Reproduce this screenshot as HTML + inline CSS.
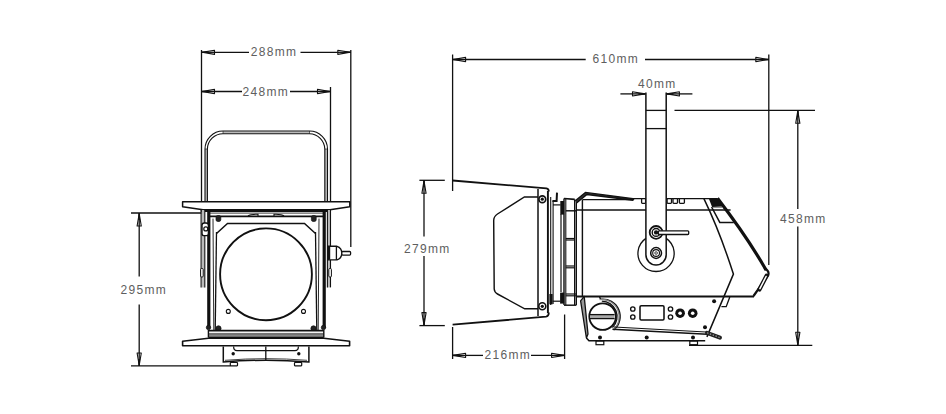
<!DOCTYPE html>
<html><head><meta charset="utf-8">
<style>
html,body{margin:0;padding:0;background:#fff;}
body{width:946px;height:414px;overflow:hidden;}
svg{display:block;}
text{font-family:"Liberation Sans",sans-serif;font-size:12px;fill:#5e5e5e;letter-spacing:1.3px;}
</style></head><body>
<svg width="946" height="414" viewBox="0 0 946 414">
<defs>
<g id="ah"><path d="M0.5,0 L13,-2.1 L13,2.1 Z" fill="#fff" stroke="#111" stroke-width="1.1" stroke-linejoin="round"/><path d="M0,0 L13,0" stroke="#111" stroke-width="1.3"/><path d="M0,0 L7,-1 L7,1 Z" fill="#111"/></g>
</defs>
<g fill="none" stroke="#111" stroke-width="1.3">
<!-- ============ FRONT VIEW DIMENSIONS ============ -->
<!-- 288mm -->
<line x1="201.5" y1="50" x2="201.5" y2="212"/>
<line x1="350.8" y1="50" x2="350.8" y2="247"/>
<line x1="201.5" y1="52.3" x2="249" y2="52.3"/>
<line x1="300.5" y1="52.3" x2="350.8" y2="52.3"/>
<!-- 248mm -->
<line x1="330.5" y1="87" x2="330.5" y2="201.5"/>
<line x1="201.5" y1="91.5" x2="242" y2="91.5"/>
<line x1="290" y1="91.5" x2="330.5" y2="91.5"/>
<!-- 295mm -->
<line x1="131" y1="213" x2="201.5" y2="213"/>
<line x1="131" y1="365.9" x2="230.5" y2="365.9"/>
<line x1="139.2" y1="213" x2="139.2" y2="276.4"/>
<line x1="139.2" y1="304.5" x2="139.2" y2="366"/>
</g>
<use href="#ah" transform="translate(201.5,52.3)"/>
<use href="#ah" transform="translate(350.8,52.3) rotate(180)"/>
<use href="#ah" transform="translate(201.5,91.5)"/>
<use href="#ah" transform="translate(330.5,91.5) rotate(180)"/>
<use href="#ah" transform="translate(139.2,213) rotate(90)"/>
<use href="#ah" transform="translate(139.2,366) rotate(-90)"/>
<text x="250.8" y="55.8">288mm</text>
<text x="242.5" y="95.8">248mm</text>
<text x="120.5" y="294.4">295mm</text>

<!-- ============ SIDE VIEW DIMENSIONS ============ -->
<g fill="none" stroke="#111" stroke-width="1.3">
<!-- 610mm -->
<line x1="452.6" y1="54.5" x2="452.6" y2="191"/>
<line x1="768.8" y1="54.5" x2="768.8" y2="265"/>
<line x1="452.6" y1="59.5" x2="585.7" y2="59.5"/>
<line x1="645" y1="59.5" x2="768.8" y2="59.5"/>
<!-- 40mm -->
<line x1="620.4" y1="93.9" x2="645.5" y2="93.9"/>
<line x1="666.4" y1="93.9" x2="692.4" y2="93.9"/>
<!-- 458mm -->
<line x1="674.5" y1="110.3" x2="815" y2="110.3"/>
<line x1="689" y1="345.3" x2="812.3" y2="345.3"/>
<line x1="797.8" y1="110.3" x2="797.8" y2="209"/>
<line x1="797.8" y1="226.4" x2="797.8" y2="345.3"/>
<!-- 279mm -->
<line x1="419.4" y1="180.3" x2="444.8" y2="180.3"/>
<line x1="419.4" y1="325.6" x2="444.8" y2="325.6"/>
<line x1="424" y1="180.3" x2="424" y2="236.6"/>
<line x1="424" y1="255.9" x2="424" y2="325.6"/>
<!-- 216mm -->
<line x1="452.6" y1="327" x2="452.6" y2="359"/>
<line x1="564.6" y1="314.5" x2="564.6" y2="359"/>
<line x1="452.6" y1="355.4" x2="483" y2="355.4"/>
<line x1="531" y1="355.4" x2="564.6" y2="355.4"/>
</g>
<use href="#ah" transform="translate(452.6,59.5)"/>
<use href="#ah" transform="translate(768.8,59.5) rotate(180)"/>
<use href="#ah" transform="translate(645.5,93.9) rotate(180)"/>
<use href="#ah" transform="translate(666.4,93.9)"/>
<use href="#ah" transform="translate(797.8,110.3) rotate(90)"/>
<use href="#ah" transform="translate(797.8,345.3) rotate(-90)"/>
<use href="#ah" transform="translate(424,180.3) rotate(90)"/>
<use href="#ah" transform="translate(424,325.6) rotate(-90)"/>
<use href="#ah" transform="translate(452.6,355.4)"/>
<use href="#ah" transform="translate(564.6,355.4) rotate(180)"/>
<text x="592.5" y="63">610mm</text>
<text x="638" y="88">40mm</text>
<text x="780" y="222.6">458mm</text>
<text x="404" y="253">279mm</text>
<text x="484.5" y="359">216mm</text>

<!-- ============ FRONT VIEW FIXTURE ============ -->
<g id="front" fill="none" stroke="#111" stroke-width="1.32">
<!-- yoke tube -->
<path d="M206.2,201.5 L206.2,149 L206.2,149 M223,132.4 L309.5,132.4 M326.1,149 L326.1,201.5" stroke="#bbb" stroke-width="2.2"/>
<path d="M205,201.5 L205,149 A18,18 0 0 1 223,131 L309.5,131 A18,18 0 0 1 327.5,149 L327.5,201.5" stroke-width="1.1"/>
<path d="M207.4,201.5 L207.4,149 A15.6,15.6 0 0 1 223,133.7 L309.5,133.7 A15.6,15.6 0 0 1 324.8,149 L324.8,201.5" stroke-width="1.1"/>
<path d="M205,149 L207.4,149 M223,131 L223,133.7 M309.5,131 L309.5,133.7 M327.5,149 L324.8,149" stroke-width="0.6"/>
<!-- top plate -->
<path d="M182.6,201.8 L349.8,201.8 L349.8,206.8 L330,209.8 L203,209.8 L182.6,206.8 Z" stroke-width="1.5" fill="#fff" stroke-linejoin="round"/>
<!-- top band -->
<line x1="205" y1="210.9" x2="327" y2="210.9" stroke-width="2"/>
<line x1="209" y1="213.1" x2="323" y2="213.1" stroke="#666" stroke-width="1.4"/>
<line x1="208" y1="216.4" x2="324" y2="216.4" stroke-width="1.7"/>
<path d="M248,216 Q250,214.2 256,214.2 L258,214.2 L258,216" stroke-width="1.1"/>
<path d="M284,216 Q282,214.2 276,214.2 L274,214.2 L274,216" stroke-width="1.1"/>
<!-- yoke arms lower -->
<rect x="201.6" y="210" width="3" height="77.5" fill="#bbb" stroke="none"/>
<line x1="201.1" y1="210" x2="201.1" y2="287.4" stroke-width="1.1"/>
<line x1="204.8" y1="210" x2="204.8" y2="287.4" stroke-width="1.1"/>
<rect x="327.6" y="210" width="2.6" height="77.5" fill="#bbb" stroke="none"/>
<line x1="330.5" y1="210" x2="330.5" y2="287.4" stroke-width="1.1"/>
<line x1="327.4" y1="210" x2="327.4" y2="287.4" stroke-width="1.1"/>
<rect x="200.6" y="268.5" width="2.6" height="8.5" rx="1" stroke-width="1" fill="#fff"/>
<rect x="328.8" y="268.5" width="2.6" height="8.5" rx="1" stroke-width="1" fill="#fff"/>
<!-- frame thick -->
<rect x="207.2" y="210" width="3.2" height="118" fill="#111" stroke="none"/>
<rect x="322.6" y="210" width="3.2" height="118" fill="#111" stroke="none"/>
<line x1="213" y1="218.6" x2="213.8" y2="330.6" stroke-width="0.9"/>
<line x1="319" y1="218.6" x2="318.2" y2="330.6" stroke-width="0.9"/>
<line x1="216.5" y1="232" x2="215.2" y2="331" stroke-width="1.3"/>
<line x1="315.5" y1="232" x2="316.8" y2="331" stroke-width="1.3"/>
<!-- left clamp -->
<rect x="202" y="223" width="6.4" height="12.6" rx="2.2" stroke-width="1.4" fill="#fff"/>
<circle cx="205.8" cy="228.9" r="2" stroke-width="1.2"/>
<!-- octagon (lens frame) -->
<path d="M216.5,233.5 L227.5,223.5 L304.5,223.5 L315.5,233.5" stroke-width="1.5"/>
<!-- lens circle -->
<circle cx="266" cy="274.3" r="45.9" stroke-width="1.9"/>
<circle cx="228.3" cy="311.4" r="2" stroke-width="1.08"/>
<circle cx="303.5" cy="311.4" r="2" stroke-width="1.08"/>
<!-- corner screws -->
<rect x="216" y="215.5" width="4.8" height="6" rx="1.8" fill="#222" stroke-width="0.7"/>
<rect x="311.4" y="215.5" width="4.8" height="6" rx="1.8" fill="#222" stroke-width="0.7"/>
<circle cx="218.5" cy="328.4" r="2.6" fill="#222" stroke-width="0.72"/>
<circle cx="313.5" cy="328.4" r="2.6" fill="#222" stroke-width="0.72"/>
<circle cx="208.5" cy="327.5" r="2.2" fill="#222" stroke-width="0.72"/>
<circle cx="323.5" cy="327.5" r="2.2" fill="#222" stroke-width="0.72"/>
<!-- right knob -->
<path d="M328,246.3 L337,246.3 Q341.8,247.8 341.8,253.1 Q341.8,258.4 337,259.9 L328,259.9 Z" stroke-width="1.4" fill="#fff"/>
<rect x="328" y="246.5" width="2.2" height="13.2" fill="#111" stroke="none"/>
<line x1="336.4" y1="246.3" x2="336.4" y2="259.9" stroke-width="1.3"/>
<rect x="341.8" y="251.5" width="8.8" height="3.6" rx="1" stroke-width="1.3" fill="#fff"/>
<!-- bottom band -->
<rect x="208.4" y="330.1" width="115.4" height="7.2" fill="#fff" stroke="none"/>
<rect x="208.4" y="332.9" width="115.4" height="4.3" fill="#888" stroke="none"/>
<line x1="208.4" y1="334" x2="323.8" y2="334" stroke="#555" stroke-width="0.8"/>
<line x1="208.4" y1="330.7" x2="323.8" y2="330.7" stroke-width="1.8"/>
<line x1="208.4" y1="337.4" x2="323.8" y2="337.4" stroke-width="1.4"/>
<line x1="208.4" y1="330" x2="208.4" y2="337.4" stroke-width="1.4"/>
<line x1="323.8" y1="330" x2="323.8" y2="337.4" stroke-width="1.4"/>
<!-- bottom plate -->
<path d="M182.6,341.2 L208.4,338.2 L323.8,338.2 L349.6,341.2 L349.6,345.8 L182.6,345.8 Z" stroke-width="1.6" fill="#fff" stroke-linejoin="round"/>
<!-- base box -->
<path d="M223.3,346.5 L223.3,362 Q266,358.5 308.9,362 L308.9,346.5" stroke-width="1.5"/>
<path d="M225,360.3 Q266,357 307,360.3" stroke-width="0.8"/>
<line x1="265.8" y1="346.5" x2="265.8" y2="361" stroke-width="1.3"/>
<path d="M233.6,346.5 Q233.6,350.6 237,350.6 L295,350.6 Q298.4,350.6 298.4,346.5" stroke-width="1.2"/>
<circle cx="233.2" cy="353.8" r="1.7" fill="#111" stroke="none"/>
<circle cx="298.8" cy="353.8" r="1.7" fill="#111" stroke="none"/>
<rect x="230.3" y="362.5" width="7.2" height="3.3" rx="0.5" stroke-width="1.2"/>
<rect x="294.5" y="362.5" width="7.2" height="3.3" rx="0.5" stroke-width="1.2"/>
</g>

<!-- ============ SIDE VIEW FIXTURE ============ -->
<g id="side" fill="none" stroke="#111" stroke-width="1.32">
<!-- barndoor leaves -->
<path d="M452.6,180.5 L546.5,188.4 Q548.8,188.8 548.8,191.5" stroke-width="1.80"/>
<path d="M452.6,324.7 L546,316.6 Q548.8,316.2 548.8,312.5" stroke-width="1.80"/>
<!-- barndoor frame verticals -->
<line x1="538" y1="189" x2="538" y2="316" stroke-width="1.5"/>
<line x1="547.9" y1="191" x2="547.9" y2="313" stroke-width="1.92"/>
<line x1="550.7" y1="197" x2="550.7" y2="305" stroke-width="1.1"/>
<line x1="553.1" y1="201" x2="553.1" y2="304" stroke-width="1.1"/>
<!-- barndoor housing side shape -->
<path d="M538,197 L524.4,197 L497.5,214 Q493.7,216.5 493.7,220.5 L494.2,289 Q494.5,292.5 497.5,294 L524.7,308.8 L538,308.8" stroke-width="1.44"/>
<circle cx="542.3" cy="199.2" r="3.4" stroke-width="1.7"/>
<circle cx="542.3" cy="199.2" r="1.6" fill="#111" stroke="none"/>
<circle cx="542.3" cy="306.3" r="3.5" stroke-width="1.6"/>
<circle cx="542.3" cy="306.3" r="1.6" fill="#111" stroke="none"/>
<!-- hooks -->
<path d="M552.4,201 L556.6,201 L557,192.6" stroke-width="2"/>
<rect x="549.4" y="294" width="3.2" height="10.3" fill="#111" stroke="none"/>
<line x1="553" y1="204.9" x2="560.6" y2="204.9" stroke-width="1.2"/>
<line x1="552.6" y1="301.2" x2="560.4" y2="301.2" stroke-width="1.20"/>
<!-- lens tube -->
<rect x="560.3" y="201" width="3.8" height="13.6" fill="#111" stroke="none"/>
<rect x="560.1" y="292.6" width="4.2" height="11" fill="#111" stroke="none"/>
<line x1="561" y1="214" x2="561" y2="292" stroke-width="1.20"/>
<line x1="564" y1="198.5" x2="564" y2="305" stroke-width="1.44"/>
<line x1="565.8" y1="199" x2="565.8" y2="305" stroke-width="1.08"/>
<line x1="574.7" y1="199.4" x2="574.7" y2="305" stroke-width="1.44"/>
<line x1="576.4" y1="201" x2="576.4" y2="305" stroke-width="1.20"/>
<path d="M564,198.5 L574.7,199.4" stroke-width="1.68"/>
<line x1="565.8" y1="210.8" x2="576.4" y2="210.8" stroke-width="1.44"/>
<line x1="565.8" y1="238.5" x2="574.7" y2="238.5" stroke-width="1.20"/>
<line x1="565.8" y1="240" x2="574.7" y2="240" stroke-width="1.20"/>
<line x1="565.8" y1="266" x2="574.7" y2="266" stroke-width="1.20"/>
<line x1="565.8" y1="267.8" x2="574.7" y2="267.8" stroke-width="1.20"/>
<line x1="565.8" y1="294" x2="576.4" y2="294" stroke-width="1.20"/>
<line x1="565.8" y1="295.8" x2="576.4" y2="295.8" stroke-width="1.20"/>
<line x1="564" y1="305.2" x2="576.4" y2="305.2" stroke-width="1.44"/>
<!-- body -->
<path d="M575.3,200.8 L585.5,192.4 L633.8,198.8 L632.8,200.3 L586.9,194.5 L576.5,203" stroke-width="1.44" fill="#333"/>
<line x1="582.4" y1="199.6" x2="633" y2="199.6" stroke-width="1.4"/>
<line x1="633" y1="198.6" x2="717.5" y2="198.6" stroke-width="1.4"/>
<line x1="576.4" y1="210" x2="730.6" y2="210" stroke-width="1.56"/>
<line x1="582.4" y1="199.8" x2="582.4" y2="296.4" stroke-width="1.44"/>
<line x1="576.4" y1="296.4" x2="754" y2="296.4" stroke-width="2.04"/>
<!-- squares on top -->
<rect x="641.6" y="198.6" width="4" height="4.7" rx="0.8" stroke-width="1.3" fill="#fff"/>
<rect x="667.1" y="198.6" width="4.4" height="4.7" rx="0.8" stroke-width="1.3" fill="#fff"/>
<rect x="673" y="198.6" width="4.5" height="4.7" rx="0.8" stroke-width="1.3" fill="#fff"/>
<rect x="679.4" y="198.6" width="5" height="4.7" rx="0.8" stroke-width="1.3" fill="#fff"/>
<!-- nose -->
<path d="M717.5,198.3 Q747.6,237.6 766.2,270.2" stroke-width="3.2"/>
<path d="M764.5,268.5 Q769.5,270.5 768.3,275 L753.5,296" stroke-width="2.2" stroke-linejoin="round"/>
<path d="M766.6,275.8 L759.4,289.5" stroke-width="4.2" stroke-linecap="round"/>
<path d="M766.1,276.5 L759.9,288.6" stroke="#fff" stroke-width="1.5" stroke-linecap="round"/>
<path d="M703.9,198.7 Q720,232 733.4,274.1 L706.9,336.9" stroke-width="1.5"/>
<polygon points="708.7,198.2 717.4,198.2 723.4,206.6 712.1,206.9" fill="#111" stroke="none"/>
<line x1="712.5" y1="207.5" x2="722.5" y2="207.5" stroke="#777" stroke-width="0.8"/>
<path d="M711.6,207 L719.8,222.4 L733.8,222.4" stroke-width="1.5"/>
<path d="M729.8,297 L726.2,306.7 L721.4,306.7" stroke-width="1.32"/>
<!-- yoke arm -->
<path d="M645.9,92.5 L645.9,254.8 A10.15,10.15 0 0 0 666.2,254.8 L666.2,92.5" stroke-width="1.5" fill="#fff"/>
<line x1="645.9" y1="110.4" x2="666.2" y2="110.4" stroke-width="1.3"/>
<line x1="645.9" y1="128.6" x2="666.2" y2="128.6" stroke-width="1.3"/>
<path d="M645.9,238.4 A18.1,18.1 0 1 0 666.2,238.4" stroke-width="1.3"/>
<circle cx="656.1" cy="232.4" r="6.4" stroke-width="1.8" fill="#fff"/>
<circle cx="656.1" cy="232.4" r="3.9" stroke-width="1.4"/>
<circle cx="656.1" cy="232.4" r="2.2" fill="#111" stroke="none"/>
<rect x="658.3" y="230.8" width="30.4" height="3.7" rx="0.9" stroke-width="1.3" fill="#fff"/>
<circle cx="656.1" cy="253" r="5.4" stroke-width="1.5"/>
<circle cx="656.1" cy="253" r="3.4" stroke-width="1.1"/>
<circle cx="656.1" cy="253" r="1.3" stroke-width="0.8"/>
<!-- base -->
<path d="M580.6,300.8 L584.2,296.4 L588,334 L586.4,338 Z" fill="#999" stroke-width="1.3" stroke-linejoin="round"/>
<path d="M586.4,338 L589,340.8 L705.2,340.8" stroke-width="1.6"/>
<path d="M599.6,297 L600.6,299.3 A17.3,17.3 0 0 1 613.8,329.8" stroke-width="1.5"/>
<path d="M601.8,301.2 A15.4,15.4 0 0 1 612.5,327.6" stroke-width="1.3"/>
<path d="M600.6,299.3 A17.3,17.3 0 0 1 613.8,329.8" stroke="#888" stroke-width="1.2" transform="translate(-0.9,0.3)"/>
<circle cx="602.6" cy="316.6" r="13.3" stroke-width="1.8" fill="#fff"/>
<rect x="590" y="314.6" width="24.6" height="4" fill="#aaa" stroke="none"/>
<line x1="590" y1="314.6" x2="614.6" y2="314.6" stroke-width="1.3"/>
<line x1="590" y1="318.6" x2="614.6" y2="318.6" stroke-width="1.3"/>
<path d="M612.5,329.3 L707.2,334.3" stroke-width="1.6"/>
<path d="M614,327 L706,332" stroke-width="1"/>
<rect x="640" y="305.7" width="24" height="14.3" rx="1.2" stroke-width="1.56"/>
<circle cx="632.8" cy="309" r="2.2" stroke-width="1.32"/>
<circle cx="632.8" cy="317" r="2.2" stroke-width="1.32"/>
<circle cx="670.5" cy="309" r="2.2" stroke-width="1.32"/>
<circle cx="670.5" cy="317" r="2.2" stroke-width="1.32"/>
<circle cx="680.1" cy="313.2" r="4.8" fill="#111" stroke="none"/>
<circle cx="680.1" cy="313.2" r="1.8" fill="#fff" stroke="none"/>
<circle cx="692.7" cy="313.2" r="4.8" fill="#111" stroke="none"/>
<circle cx="692.7" cy="313.2" r="1.8" fill="#fff" stroke="none"/>
<circle cx="600" cy="337.4" r="2" fill="#111" stroke="none"/>
<circle cx="646.7" cy="337.4" r="2" fill="#111" stroke="none"/>
<circle cx="693" cy="337.4" r="2" fill="#111" stroke="none"/>
<circle cx="714.1" cy="301.2" r="2" fill="#111" stroke="none"/>
<circle cx="705" cy="327.2" r="2" fill="#111" stroke="none"/>
<rect x="596" y="341" width="7.8" height="3.7" stroke-width="1.20"/>
<rect x="689.8" y="341" width="7.7" height="3.7" stroke-width="1.20"/>
<path d="M707,332.8 L720,337.6" stroke="#222" stroke-width="4" stroke-linecap="round"/>
<path d="M707,332.8 L720,337.6" stroke="#999" stroke-width="1.2" stroke-dasharray="1.5,1.5"/>
</g>
</svg>
</body></html>
